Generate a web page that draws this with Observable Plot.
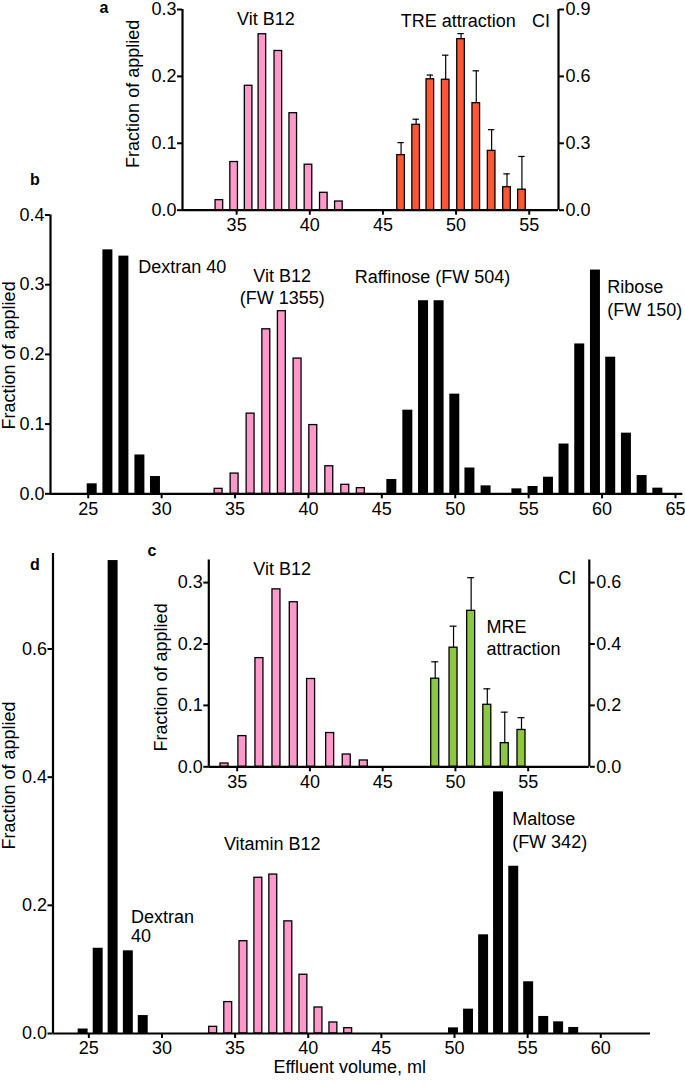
<!DOCTYPE html>
<html><head><meta charset="utf-8">
<script src="https://cdn.jsdelivr.net/npm/d3@7"></script>
<script src="https://cdn.jsdelivr.net/npm/@observablehq/plot@0.6"></script>
<style>
html,body{margin:0;padding:0;background:#fff;}
#root{position:relative;width:685px;height:1085px;overflow:hidden;font-family:"Liberation Sans",Arial,Helvetica,sans-serif;}
#root svg{position:absolute;left:0;overflow:visible;background:transparent;}
.plab{position:absolute;font-weight:bold;font-size:16px;line-height:16px;}
</style></head><body><div id="root"></div>
<script>
// ---------- DATA ----------
// Panel a: Vit B12 (fraction of applied) and TRE attraction (CI, right axis)
const aVitX = [33.82, 34.83, 35.82, 36.76, 37.85, 38.87, 39.91, 40.96, 41.99];
const aVitY = [0.015, 0.072, 0.186, 0.263, 0.238, 0.145, 0.068, 0.026, 0.013];
const aTreX = [46.24, 47.27, 48.24, 49.29, 50.34, 51.38, 52.43, 53.48, 54.5];
const aTreCI = [0.247, 0.383, 0.587, 0.585, 0.767, 0.480, 0.266, 0.103, 0.092];
const aTreErr = [0.056, 0.025, 0.019, 0.110, 0.025, 0.145, 0.095, 0.060, 0.149];
const aXTicks = [35, 40, 45, 50, 55];
const aYTicks = [0, 0.1, 0.2, 0.3];
const aCITicks = [0, 0.3, 0.6, 0.9];

// Panel b
const bDexX = [25.27, 26.34, 27.43, 28.52, 29.58];
const bDexY = [0.0143, 0.350, 0.341, 0.0557, 0.0248];
const bVitX = [33.88, 34.97, 36.06, 37.13, 38.19, 39.26, 40.33, 41.42, 42.51, 43.57];
const bVitY = [0.0071, 0.029, 0.115, 0.236, 0.262, 0.194, 0.0986, 0.0395, 0.0129, 0.0081];
const bRafX = [45.68, 46.77, 47.84, 48.9, 49.97, 51.0, 52.1];
const bRafY = [0.0205, 0.120, 0.277, 0.277, 0.143, 0.037, 0.0114];
const bRibX = [54.2, 55.3, 56.35, 57.41, 58.48, 59.55, 60.59, 61.66, 62.73, 63.8];
const bRibY = [0.0071, 0.0105, 0.0238, 0.0714, 0.215, 0.321, 0.196, 0.087, 0.0262, 0.0081];
const bXTicks = [25, 30, 35, 40, 45, 50, 55, 60, 65];
const bYTicks = [0, 0.1, 0.2, 0.3, 0.4];

// Panel c: Vit B12 and MRE attraction (CI, right axis)
const cVitX = [34.13, 35.36, 36.53, 37.7, 38.89, 40.08, 41.39, 42.53, 43.7];
const cVitY = [0.0054, 0.050, 0.177, 0.289, 0.268, 0.143, 0.055, 0.020, 0.0103];
const cMreX = [48.61, 49.87, 51.08, 52.19, 53.39, 54.54];
const cMreCI = [0.287, 0.388, 0.508, 0.202, 0.077, 0.120];
const cMreErr = [0.055, 0.070, 0.108, 0.052, 0.101, 0.040];
const cXTicks = [35, 40, 45, 50, 55];
const cYTicks = [0, 0.1, 0.2, 0.3];
const cCITicks = [0, 0.2, 0.4, 0.6];

// Panel d
const dDexX = [24.61, 25.64, 26.66, 27.7, 28.72];
const dDexY = [0.007, 0.133, 0.738, 0.129, 0.028];
const dVitX = [33.5, 34.53, 35.57, 36.59, 37.61, 38.64, 39.67, 40.7, 41.72, 42.73];
const dVitY = [0.0104, 0.049, 0.144, 0.243, 0.248, 0.175, 0.0917, 0.0406, 0.0172, 0.0083];
const dMalX = [49.93, 50.96, 51.99, 53.01, 54.05, 55.07, 56.1, 57.12, 58.15];
const dMalY = [0.0088, 0.038, 0.154, 0.377, 0.261, 0.0807, 0.0266, 0.0182, 0.0094];
const dXTicks = [25, 30, 35, 40, 45, 50, 55, 60];
const dYTicks = [0, 0.2, 0.4, 0.6];

// ---------- RENDER ----------
const FONT = "'Liberation Sans', Arial, Helvetica, sans-serif";
const PINK = "#FF99CC", ORANGE = "#FF5733", GREEN = "#8DC63F";
const root = document.getElementById("root");
const rows = (xs, ys, es) => xs.map((x, i) => ({x, y: ys[i], e: es ? es[i] : 0}));
const f1 = d3.format(".1f");

function outlined(data, fill, hw) {
  return Plot.rect(data, {x1: d => d.x - hw, x2: d => d.x + hw, y1: 0, y2: "y", fill, stroke: "black", strokeWidth: 1.3});
}
function solid(data, hw) {
  return Plot.rect(data, {x1: d => d.x - hw, x2: d => d.x + hw, y1: 0, y2: "y", fill: "black"});
}
function errBars(data, cw) {
  return [
    Plot.ruleX(data, {x: "x", y1: "y", y2: d => d.y + d.e, stroke: "black", strokeWidth: 1.2}),
    Plot.ruleY(data, {y: d => d.y + d.e, x1: d => d.x - cw, x2: d => d.x + cw, stroke: "black", strokeWidth: 1.2})
  ];
}
function frameAxes(xDomain, xTicks, yTicks, yFmt) {
  return [
    Plot.ruleY([0], {stroke: "black", strokeWidth: 2.2}),
    Plot.ruleX([xDomain[0]], {stroke: "black", strokeWidth: 2.2}),
    Plot.axisX(xTicks, {tickSize: 5, tickPadding: 3, strokeWidth: 2, tickFormat: d => String(d), label: null}),
    Plot.axisY(yTicks, {anchor: "left", tickSize: 5, tickPadding: 1, strokeWidth: 2, tickFormat: yFmt || f1, label: null})
  ];
}
function yLabel(dx, dy) {
  return Plot.text(["Fraction of applied"], {text: d => d, frameAnchor: "left", textAnchor: "middle", lineAnchor: "middle", rotate: -90, dx, dy, fontSize: 18, fill: "black"});
}
function notes(list) {
  return list.map(n => Plot.text([n], {x: "x", y: "y", text: "t", textAnchor: n.a || "middle", fontSize: 18, fill: "black"}));
}
function place(svgTop, svgHeight, fr, xDomain, yDomain, marks) {
  const svg = Plot.plot({
    width: 685, height: svgHeight,
    marginLeft: fr.l, marginRight: 685 - fr.r,
    marginTop: fr.t - svgTop, marginBottom: svgTop + svgHeight - fr.b,
    x: {domain: xDomain, label: null},
    y: {domain: yDomain, label: null},
    style: {fontFamily: FONT, fontSize: "18px", color: "black", background: "transparent", overflow: "visible"},
    marks
  });
  svg.style.top = svgTop + "px";
  root.appendChild(svg);
}

// Panel d (drawn first: the c inset sits on top of it)
{
  const xD = [22.55, 63.4];
  place(540, 545, {l: 52.5, r: 650, t: 553, b: 1033}, xD, [0, 0.749], [
    solid(rows(dDexX, dDexY), 0.34),
    outlined(rows(dVitX, dVitY), PINK, 0.27),
    solid(rows(dMalX, dMalY), 0.34),
    ...frameAxes(xD, dXTicks, dYTicks),
    yLabel(-43.5, -18),
    Plot.text(["Effluent volume, ml"], {text: d => d, frameAnchor: "bottom", dy: 39, dx: -2, fontSize: 18, fill: "black"}),
    ...notes([
      {x: 27.89, y: 0.181, t: "Dextran", a: "start"},
      {x: 27.89, y: 0.151, t: "40", a: "start"},
      {x: 37.54, y: 0.295, t: "Vitamin B12"},
      {x: 53.94, y: 0.334, t: "Maltose", a: "start"},
      {x: 53.94, y: 0.298, t: "(FW 342)", a: "start"}
    ])
  ]);
}

// Panel a
{
  const xD = [31.3, 57];
  const tre = rows(aTreX, aTreCI.map(v => v / 3), aTreErr.map(v => v / 3));
  place(0, 240, {l: 182, r: 558, t: 9, b: 209.7}, xD, [0, 0.3], [
    outlined(rows(aVitX, aVitY), PINK, 0.26),
    outlined(tre, ORANGE, 0.26),
    ...errBars(tre, 0.22),
    ...frameAxes(xD, aXTicks, aYTicks),
    Plot.ruleX([xD[1]], {stroke: "black", strokeWidth: 2.2}),
    Plot.axisY(aCITicks.map(v => v / 3), {anchor: "right", tickSize: 5, tickPadding: 2, strokeWidth: 2, tickFormat: v => f1(v * 3), label: null}),
    yLabel(-49, -16),
    ...notes([
      {x: 37.0, y: 0.286, t: "Vit B12"},
      {x: 50.15, y: 0.283, t: "TRE attraction"},
      {x: 55.8, y: 0.283, t: "CI"}
    ])
  ]);
}

// Panel b
{
  const xD = [22.43, 65.5];
  place(200, 320, {l: 50, r: 682.3, t: 214.5, b: 493.3}, xD, [0, 0.4], [
    solid(rows(bDexX, bDexY), 0.34),
    outlined(rows(bVitX, bVitY), PINK, 0.27),
    solid(rows(bRafX, bRafY), 0.34),
    solid(rows(bRibX, bRibY), 0.34),
    ...frameAxes(xD, bXTicks, bYTicks),
    yLabel(-41, 1),
    ...notes([
      {x: 28.4, y: 0.325, t: "Dextran 40", a: "start"},
      {x: 38.21, y: 0.312, t: "Vit B12"},
      {x: 38.21, y: 0.281, t: "(FW 1355)"},
      {x: 48.45, y: 0.310, t: "Raffinose (FW 504)"},
      {x: 60.35, y: 0.296, t: "Ribose", a: "start"},
      {x: 60.35, y: 0.264, t: "(FW 150)", a: "start"}
    ])
  ]);
}

// Panel c (inset)
{
  const xD = [33.05, 59.2];
  const mre = rows(cMreX, cMreCI.map(v => v / 2), cMreErr.map(v => v / 2));
  place(545, 250, {l: 208.3, r: 588.8, t: 559.5, b: 766.3}, xD, [0, 0.3368], [
    outlined(rows(cVitX, cVitY), PINK, 0.275),
    outlined(mre, GREEN, 0.275),
    ...errBars(mre, 0.24),
    ...frameAxes(xD, cXTicks, cYTicks),
    Plot.ruleX([xD[1]], {stroke: "black", strokeWidth: 2.2}),
    Plot.axisY(cCITicks.map(v => v / 2), {anchor: "right", tickSize: 5, tickPadding: 2, strokeWidth: 2, tickFormat: v => f1(v * 2), label: null}),
    yLabel(-48, 14),
    ...notes([
      {x: 38.09, y: 0.321, t: "Vit B12"},
      {x: 52.13, y: 0.227, t: "MRE", a: "start"},
      {x: 52.13, y: 0.191, t: "attraction", a: "start"},
      {x: 57.68, y: 0.307, t: "CI"}
    ])
  ]);
}

// Panel letters
[["a", 99.5, 0], ["b", 30, 172], ["c", 147.5, 542.6], ["d", 30, 557.3]].forEach(([t, l, tp]) => {
  const el = document.createElement("div");
  el.className = "plab"; el.textContent = t;
  el.style.left = l + "px"; el.style.top = tp + "px";
  root.appendChild(el);
});
</script>
</body></html>
